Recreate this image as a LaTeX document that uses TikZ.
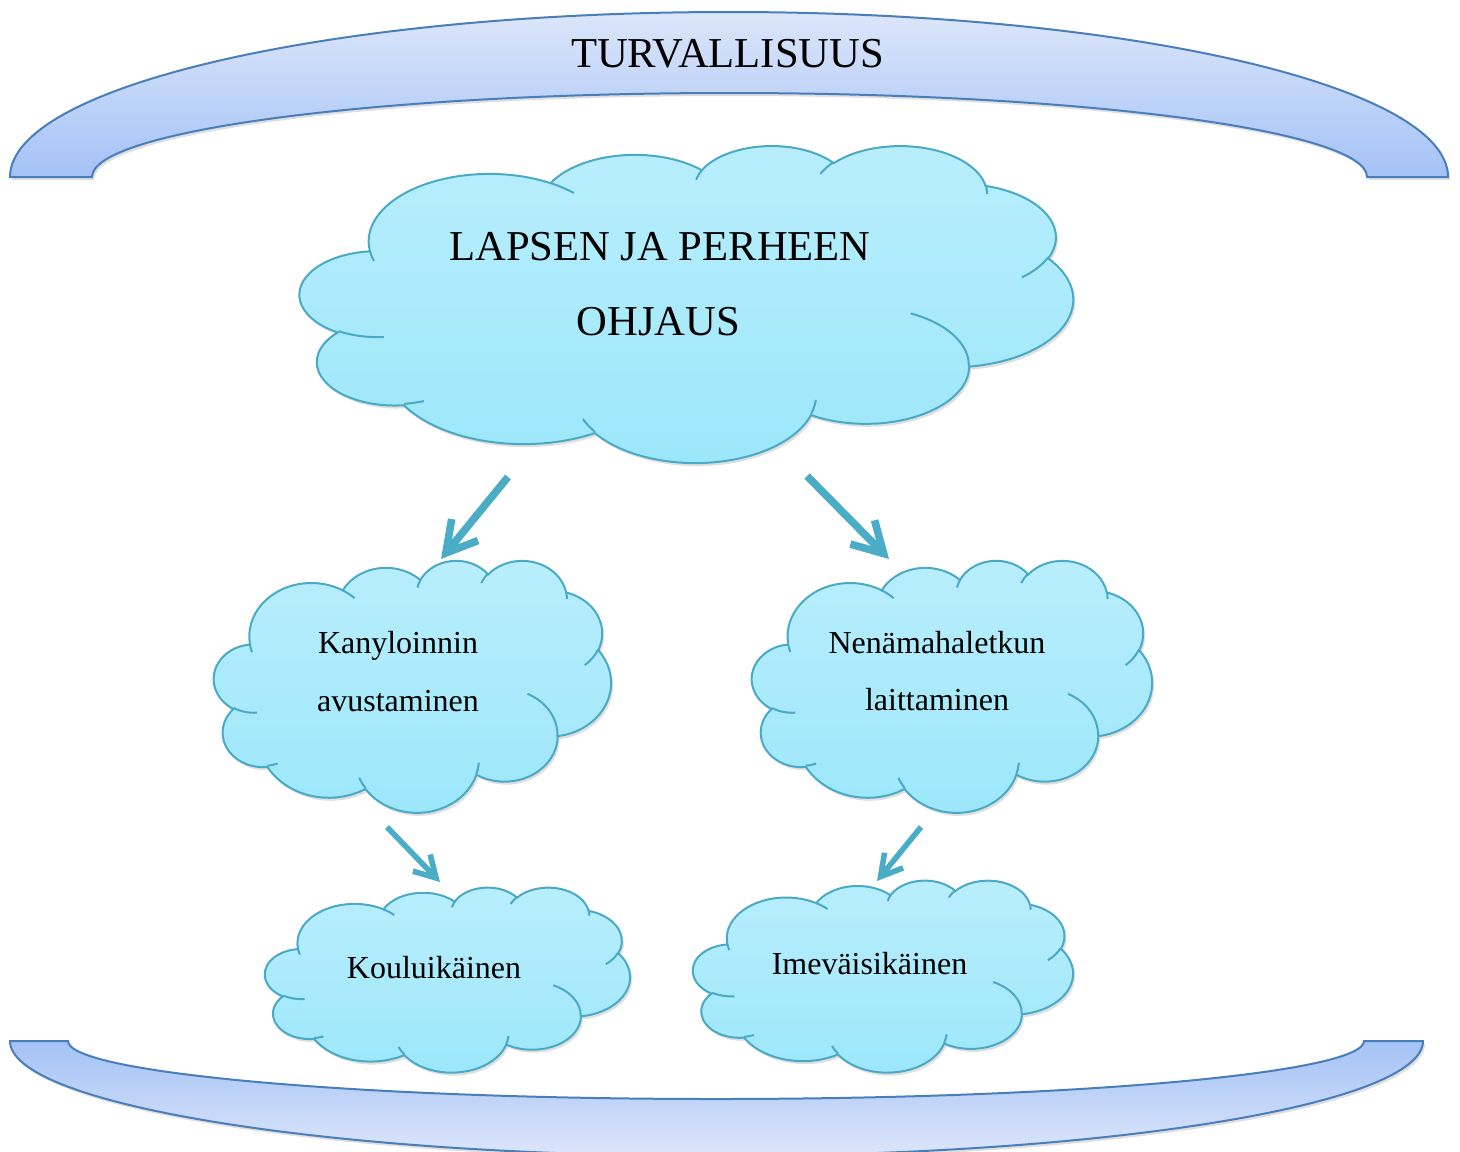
\documentclass[tikz,border=0pt]{standalone}
\usepackage{fontspec}
\setmainfont{Liberation Serif}
\usepackage{xcolor}
\usepackage{tikz}
\usetikzlibrary{arrows.meta,shadows}
\definecolor{bannertop}{HTML}{DCE6FA}
\definecolor{bannerbot}{HTML}{A4C2F6}
\definecolor{bannerline}{HTML}{4A7EBB}
\definecolor{cloudtop}{HTML}{B9EEFC}
\definecolor{cloudbot}{HTML}{9CE7FB}
\definecolor{cloudline}{HTML}{4AA9C5}
\definecolor{arrowblue}{HTML}{4BACC6}

% one arc of a cloud: x radius, y radius, start angle, sweep (angles as seen)
\newcommand\warc[4]{%
  \pgfextra{%
    \pgfmathparse{atan2(#1*sin(#3),#2*cos(#3))}\global\let\wta\pgfmathresult
    \pgfmathparse{atan2(#1*sin(#3+#4),#2*cos(#3+#4))}\global\let\wtb\pgfmathresult
    \pgfmathparse{mod(\wtb-\wta+720,360)}\global\let\wtd\pgfmathresult}%
  arc[start angle=\wta, delta angle=\wtd, x radius=#1, y radius=#2]}

% cloud in a box: left, top, width, height (px)
\newcommand\wcloud[4]{%
  \pgfmathsetmacro\cldx{#3/8640}%
  \pgfmathsetmacro\cldy{#4/8640}%
  \begin{scope}[shift={(#1,#2)}, x=\cldx pt, y=-\cldy pt]
    \path[cloudbody] (390.0,1437.0)
      \warc{675.3}{919.0}{-190.4875}{123.7805}
      \warc{533.3}{726.7}{-144.1024}{89.9452}
      \warc{436.5}{594.5}{-145.8079}{99.7230}
      \warc{485.7}{659.5}{-130.9861}{117.2417}
      \warc{533.3}{727.3}{-78.7089}{109.0269}
      \warc{677.5}{922.0}{-46.2673}{130.2690}
      \warc{578.5}{786.7}{0.6250}{114.0333}
      \warc{675.2}{921.5}{22.4516}{115.1726}
      \warc{772.0}{1054.3}{66.2426}{75.7110}
      \warc{436.0}{591.8}{-274.9421}{146.7356}
      \warc{434.5}{594.5}{-246.8285}{152.5189} -- cycle;
    % inner strokes
    \draw[cloudedge]
      (469.3,2617.7) \warc{434.5}{594.5}{86.7420}{26.4295}
      (692.8,3489.9) \warc{436.0}{591.8}{73.6105}{11.4475}
      (1647.8,3909.0) \warc{675.2}{921.5}{137.6242}{14.0811}
      (2882.7,3475.1) \warc{675.2}{921.5}{6.4533}{15.9984}
      (3412.9,2295.4) \warc{578.5}{786.7}{-70.2924}{70.9174}
      (4179.8,1535.4) \warc{533.3}{727.3}{30.3180}{27.7515}
      (3832.4,542.6) \warc{485.7}{659.5}{-13.7443}{14.8589}
      (2907.8,395.2) \warc{485.7}{659.5}{-149.1815}{18.1954}
      (2214.1,472.0) \warc{436.5}{594.5}{-163.4943}{17.6864}
      (1400.0,519.2) \warc{675.3}{919.0}{-66.7070}{12.3194}
      (412.7,1578.9) \warc{675.3}{919.0}{157.6544}{11.8582};
  \end{scope}}

\begin{document}
\begin{tikzpicture}[x=0.5pt, y=-0.5pt,
  banner/.style={draw=bannerline, line width=1pt,
    drop shadow={opacity=0.25, shadow xshift=1pt, shadow yshift=-1.5pt}},
  cloudbody/.style={top color=cloudtop, bottom color=cloudbot, draw=cloudline, line width=1pt,
    drop shadow={opacity=0.25, shadow xshift=1pt, shadow yshift=-1.5pt}},
  cloudedge/.style={draw=cloudline, line width=1pt},
  bigtxt/.style={font=\fontsize{21.3}{25}\selectfont, anchor=base, inner sep=0pt},
  smalltxt/.style={font=\fontsize{16}{19}\selectfont, anchor=base, inner sep=0pt},
  bigarrow/.style={draw=arrowblue, line width=3.8pt, -{Straight Barb[length=15pt, width=17pt]}},
  smallarrow/.style={draw=arrowblue, line width=2.8pt, -{Straight Barb[length=10.5pt, width=12pt]}}]
\useasboundingbox (0,0) rectangle (1460,1151);

% top banner
\path[banner, top color=bannertop, bottom color=bannerbot] (10,177)
  arc[start angle=180, delta angle=180, x radius=719, y radius=165] -- (1367,177)
  arc[start angle=0, delta angle=-180, x radius=637.5, y radius=84] -- cycle;
% bottom banner
\path[banner, top color=bannerbot, bottom color=bannertop] (10,1041)
  arc[start angle=180, delta angle=-180, x radius=706.5, y radius=115] -- (1364,1041)
  arc[start angle=0, delta angle=180, x radius=648, y radius=58] -- cycle;

% clouds
\wcloud{300}{145}{773}{317}
\wcloud{214}{560}{397}{252}
\wcloud{752}{560}{400}{252}
\wcloud{265}{887}{365}{185}
\wcloud{693}{880}{380}{192}

% arrows
\coordinate (a1s) at (508,477); \coordinate (a1e) at (441,559);
\coordinate (a2s) at (807,476); \coordinate (a2e) at (889,559);
\coordinate (a3s) at (387,827); \coordinate (a3e) at (440,882);
\coordinate (a4s) at (921,827); \coordinate (a4e) at (877,881);
\draw[bigarrow] (a1s) -- (a1e);
\draw[bigarrow] (a2s) -- (a2e);
\draw[smallarrow] (a3s) -- (a3e);
\draw[smallarrow] (a4s) -- (a4e);

% labels
\node[bigtxt] (turva) at (727.5,67) {TURVALLISUUS};
\node[bigtxt] (lapsen) at (660,260) {LAPSEN JA PERHEEN};
\node[bigtxt] (ohjaus) at (658.5,335) {OHJAUS};
\node[smalltxt] (kanyl) at (398,653) {Kanyloinnin};
\node[smalltxt] (avust) at (398,711) {avustaminen};
\node[smalltxt] (nena) at (937,653) {Nenämahaletkun};
\node[smalltxt] (laitt) at (937,710) {laittaminen};
\node[smalltxt] (koulu) at (434,978) {Kouluikäinen};
\node[smalltxt] (imev) at (869.5,974) {Imeväisikäinen};
\end{tikzpicture}
\end{document}
